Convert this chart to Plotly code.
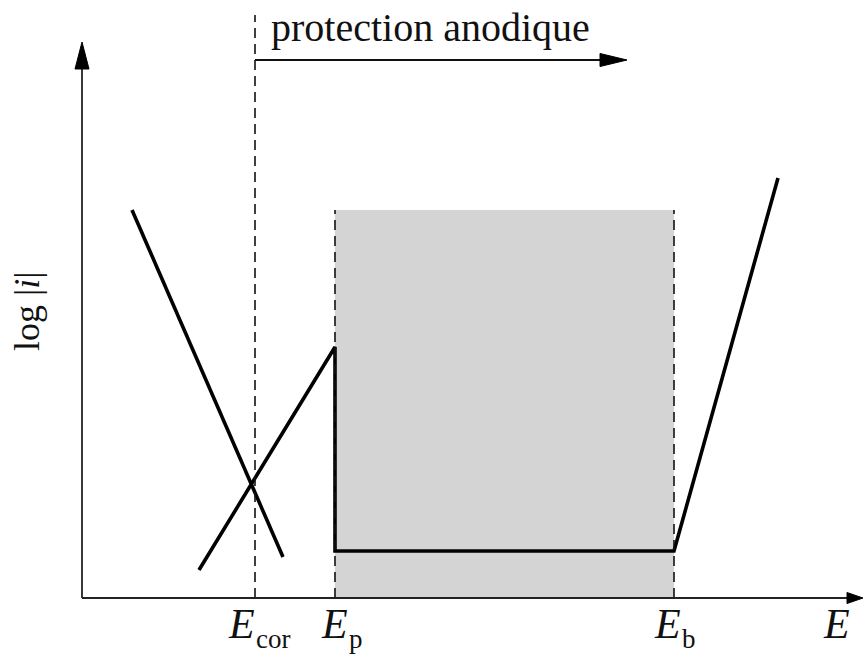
import plotly.graph_objects as go

# Characteristic potentials (arbitrary units along E)
E_cor = 1.73
E_p = 2.53
E_b = 5.92

# Cathodic branch (log|i| decreasing with E)
cath_E = [0.50, 2.01]
cath_logi = [3.88, 0.41]

# Anodic branch: active rise, passivation drop, passive plateau, transpassive rise
anod_E = [1.17, E_p, E_p, E_b, 6.96]
anod_logi = [0.28, 2.51, 0.47, 0.47, 4.20]

# Extent of the shaded passive domain
passive_top = 3.88

# Axis extents
E_max = 7.81
logi_max = 5.56
E_min_view, E_max_view = -0.82, 7.83
y_min_view, y_max_view = -0.58, 5.98

# Top "protection anodique" arrow
prot_y = 5.38
prot_end = 5.45
ecor_top = 5.83

SERIF = "Liberation Serif"
PX = 0.01  # one pixel in data units

fig = go.Figure()

# shaded passive region
fig.add_shape(type="rect", x0=E_p, x1=E_b, y0=0, y1=passive_top,
              fillcolor="#d4d4d4", line_width=0, layer="below")

# dashed markers
dash_style = dict(color="#111111", width=1.6, dash="10px,6px")
fig.add_shape(type="line", x0=E_cor, x1=E_cor, y0=0, y1=ecor_top, line=dash_style)
fig.add_shape(type="line", x0=E_p, x1=E_p, y0=0, y1=passive_top, line=dash_style)
fig.add_shape(type="line", x0=E_b, x1=E_b, y0=0, y1=passive_top, line=dash_style)

# axes
axis_style = dict(color="#222222", width=1.8)
fig.add_shape(type="line", x0=0, x1=E_max - 12 * PX, y0=0, y1=0, line=axis_style)
fig.add_shape(type="line", x0=0, x1=0, y0=0, y1=logi_max - 20 * PX, line=axis_style)
# protection arrow shaft
fig.add_shape(type="line", x0=E_cor, x1=prot_end - 20 * PX, y0=prot_y, y1=prot_y,
              line=dict(color="#111111", width=1.8))


def arrow_head(tx, ty, direction, length, width):
    """Filled triangular arrowhead with its tip at (tx, ty)."""
    L, W = length * PX, width * PX / 2
    if direction == "up":
        pts = [(tx, ty), (tx - W, ty - L), (tx + W, ty - L)]
    else:
        pts = [(tx, ty), (tx - L, ty + W), (tx - L, ty - W)]
    path = "M " + " L ".join(f"{x},{y}" for x, y in pts) + " Z"
    fig.add_shape(type="path", path=path, fillcolor="#000000",
                  line=dict(color="#000000", width=1))


arrow_head(0, logi_max, "up", 27, 14)
arrow_head(E_max, 0, "right", 16, 11)
arrow_head(prot_end, prot_y, "right", 27, 13)

# current curves
fig.add_trace(go.Scatter(x=cath_E, y=cath_logi, mode="lines",
                         line=dict(color="#000000", width=3.6), hoverinfo="skip"))
fig.add_trace(go.Scatter(x=anod_E, y=anod_logi, mode="lines",
                         line=dict(color="#000000", width=3.6, shape="linear"),
                         hoverinfo="skip"))

# labels
fig.add_annotation(x=E_cor + 14 * PX, y=prot_y + 8 * PX, text="protection anodique",
                   showarrow=False, xanchor="left", yanchor="bottom",
                   font=dict(family=SERIF, size=40, color="#111111"))
fig.add_annotation(x=-0.55, y=2.86, text="log |<i>i</i>|", showarrow=False,
                   textangle=-90, font=dict(family=SERIF, size=36, color="#111111"))


def e_label(xc, sub):
    fig.add_annotation(x=xc, y=-0.01, text="<i>E</i>", showarrow=False,
                       xanchor="right", yanchor="top",
                       font=dict(family=SERIF, size=42, color="#111111"))
    if sub:
        fig.add_annotation(x=xc - 3 * PX, y=y_min_view + 0.5 * PX, text=sub,
                           showarrow=False, xanchor="left", yanchor="bottom",
                           font=dict(family=SERIF, size=27, color="#111111"))


e_label(E_cor + 2 * PX, "cor")
e_label(E_p + 15 * PX, "p")
e_label(E_b + 9 * PX, "b")
e_label(E_max - 11 * PX, None)

fig.update_layout(
    width=865, height=656,
    margin=dict(l=0, r=0, t=0, b=0),
    paper_bgcolor="white", plot_bgcolor="white",
    showlegend=False,
    xaxis=dict(range=[E_min_view, E_max_view], visible=False, fixedrange=True),
    yaxis=dict(range=[y_min_view, y_max_view], visible=False, fixedrange=True),
)

fig.write_html("out.html")
